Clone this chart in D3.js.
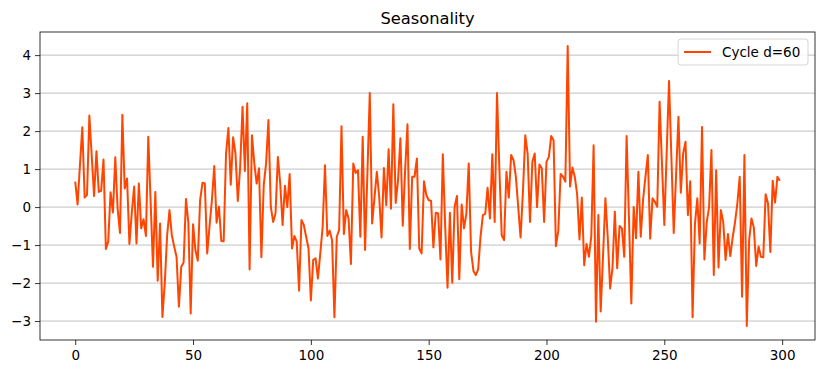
<!DOCTYPE html>
<html>
<head>
<meta charset="utf-8">
<script src="https://cdn.jsdelivr.net/npm/d3@7"></script>
<style>
body { margin: 0; background: #fff; }
text { font-family: "DejaVu Sans", sans-serif; }
</style>
</head>
<body>
<svg id="chart" width="825" height="374"></svg>
<script>
var title = "Seasonality";
var seriesName = "Cycle d=60";
// cycle component, one value per time step (0..299)
var cycle = [
    0.67, 0.07, 1.1, 2.1, 0.25, 0.32, 2.41, 1.35, 0.29, 1.47,
    0.4, 0.43, 1.25, -1.1, -0.91, 0.39, -0.14, 1.31, -0.05, -0.68,
    2.43, 0.49, 0.75, -0.97, -0.15, 0.54, -0.96, 0.62, -0.56, -0.32,
    -0.76, 1.85, 0.14, -1.57, 0.4, -1.94, -0.43, -2.89, -2.0, -0.75,
    -0.08, -0.74, -1.04, -1.31, -2.62, -1.57, -1.46, 0.21, -0.4, -2.8,
    -0.45, -1.13, -1.41, 0.18, 0.64, 0.62, -1.22, -0.5, 0.18, 1.08,
    -0.41, 0.01, -0.89, -0.9, 1.41, 2.08, 0.59, 1.84, 1.41, 0.16,
    1.06, 2.64, 0.95, 2.73, -1.64, 1.89, 1.15, 0.62, 1.02, -1.32,
    0.58, 1.15, 2.29, 0.01, -0.39, -0.17, 1.32, 0.62, -0.47, 0.56,
    0.0, 0.87, -1.09, -0.76, -0.91, -2.2, -0.34, -0.47, -0.78, -1.09,
    -2.46, -1.39, -1.35, -1.88, -1.22, -0.52, 1.1, -0.76, -0.62, -0.87,
    -2.9, -0.78, -0.6, 2.13, -0.71, -0.08, -0.3, -1.5, 1.15, 0.9,
    0.97, -0.78, 1.85, -1.13, 0.9, 3.0, -0.43, 0.25, 0.93, 0.27,
    -0.8, 1.03, 0.05, 1.52, -0.04, 2.71, 0.11, 0.71, 1.81, -0.49,
    0.97, 2.18, -1.1, 0.8, 0.8, 1.28, -1.09, -1.22, 0.68, 0.32,
    0.18, 0.17, -1.06, -0.15, -0.17, -1.38, 1.39, -0.5, -2.12, -0.15,
    -1.99, 0.01, 0.29, -1.9, 0.07, -0.56, -0.17, 1.15, -1.18, -1.68,
    -1.79, -1.64, -0.78, -0.21, -0.18, 0.51, -0.3, 1.39, -0.39, 3.0,
    1.0, -0.74, -0.87, 0.93, 0.25, 1.37, 1.24, 0.8, 0.0, -0.8,
    0.4, 1.89, 1.41, -0.39, 1.19, 1.41, 0.0, 1.12, 1.02, -0.39,
    1.19, 1.32, 1.87, 1.76, -1.03, -0.62, 0.87, 0.8, 0.67, 4.24,
    0.54, 1.04, 0.8, 0.34, -0.85, 0.25, -1.53, -0.97, -1.31, -0.78,
    1.63, -3.02, -0.21, -2.75, -1.28, 0.23, -0.8, -2.14, -1.6, -0.12,
    -1.61, -0.5, -0.56, -1.31, 1.87, -0.3, -2.54, 0.0, -0.82, 0.93,
    -0.78, 0.2, 0.8, 1.37, -0.83, 0.23, 0.14, 0.01, 2.77, 1.15,
    -0.47, 1.42, 3.32, 1.32, -0.68, 0.85, 2.38, 0.38, 1.41, 1.72,
    -0.21, 0.68, -2.9, -0.45, 0.23, -0.96, 2.11, -1.38, -0.4, 0.0,
    1.5, -1.79, 0.97, -1.59, -0.08, -0.39, -1.39, -0.71, -1.29, -0.8,
    -0.4, 0.1, 0.8, -2.36, 1.37, -3.13, -0.87, -0.3, -0.54, -1.55,
    -1.04, -1.31, -1.32, 0.34, 0.1, -1.18, 0.69, 0.12, 0.8, 0.69
];
var xTicks = [0, 50, 100, 150, 200, 250, 300];
var yTicks = [-3, -2, -1, 0, 1, 2, 3, 4];

var svg = d3.select("#chart");
var m = { left: 40, right: 815, top: 32, bottom: 340 };

// matplotlib-like 5% margins
function padded(ext) {
    var p = (ext[1] - ext[0]) * 0.05;
    return [ext[0] - p, ext[1] + p];
}
var x = d3.scaleLinear().domain(padded([0, cycle.length - 1])).range([m.left, m.right]);
var y = d3.scaleLinear().domain(padded(d3.extent(cycle))).range([m.bottom, m.top]);

// horizontal grid
svg.append("g").selectAll("line").data(yTicks).enter().append("line")
    .attr("x1", m.left).attr("x2", m.right)
    .attr("y1", function (d) { return y(d); }).attr("y2", function (d) { return y(d); })
    .attr("stroke", "#b0b0b0").attr("stroke-width", 0.8);

var line = d3.line()
    .x(function (d, i) { return x(i); })
    .y(function (d) { return y(d); });

svg.append("path").datum(cycle)
    .attr("d", line)
    .attr("fill", "none")
    .attr("stroke", "#ff4500")
    .attr("stroke-width", 2)
    .attr("stroke-linejoin", "round");

// axes
var xAxis = svg.append("g").attr("transform", "translate(0," + m.bottom + ")")
    .call(d3.axisBottom(x).tickValues(xTicks).tickSize(5).tickPadding(4).tickFormat(d3.format("d")));
var yAxis = svg.append("g").attr("transform", "translate(" + m.left + ",0)")
    .call(d3.axisLeft(y).tickValues(yTicks).tickSize(5).tickPadding(4).tickFormat(function (d) { return d < 0 ? "\u2212" + (-d) : d; }));
[xAxis, yAxis].forEach(function (a) {
    a.select(".domain").remove();
    a.selectAll("line").attr("stroke", "#000").attr("stroke-width", 0.8);
    a.selectAll("text").attr("font-family", "DejaVu Sans").attr("font-size", 13.5).attr("fill", "#000");
});
xAxis.selectAll("text").attr("dy", "0.85em");

// frame
svg.append("rect")
    .attr("x", m.left).attr("y", m.top)
    .attr("width", m.right - m.left).attr("height", m.bottom - m.top)
    .attr("fill", "none").attr("stroke", "#000").attr("stroke-width", 0.8);

svg.append("text")
    .attr("x", (m.left + m.right) / 2).attr("y", 24)
    .attr("text-anchor", "middle")
    .attr("font-size", 16.3)
    .text(title);

// legend
var lg = svg.append("g").attr("transform", "translate(678,39)");
lg.append("rect")
    .attr("width", 130).attr("height", 26).attr("rx", 3)
    .attr("fill", "#fff").attr("fill-opacity", 0.8)
    .attr("stroke", "#cccccc").attr("stroke-width", 0.8);
lg.append("line")
    .attr("x1", 6).attr("x2", 33).attr("y1", 13).attr("y2", 13)
    .attr("stroke", "#ff4500").attr("stroke-width", 2);
lg.append("text")
    .attr("x", 44).attr("y", 13).attr("dy", "0.35em")
    .attr("font-size", 13.5)
    .text(seriesName);
</script>
</body>
</html>
